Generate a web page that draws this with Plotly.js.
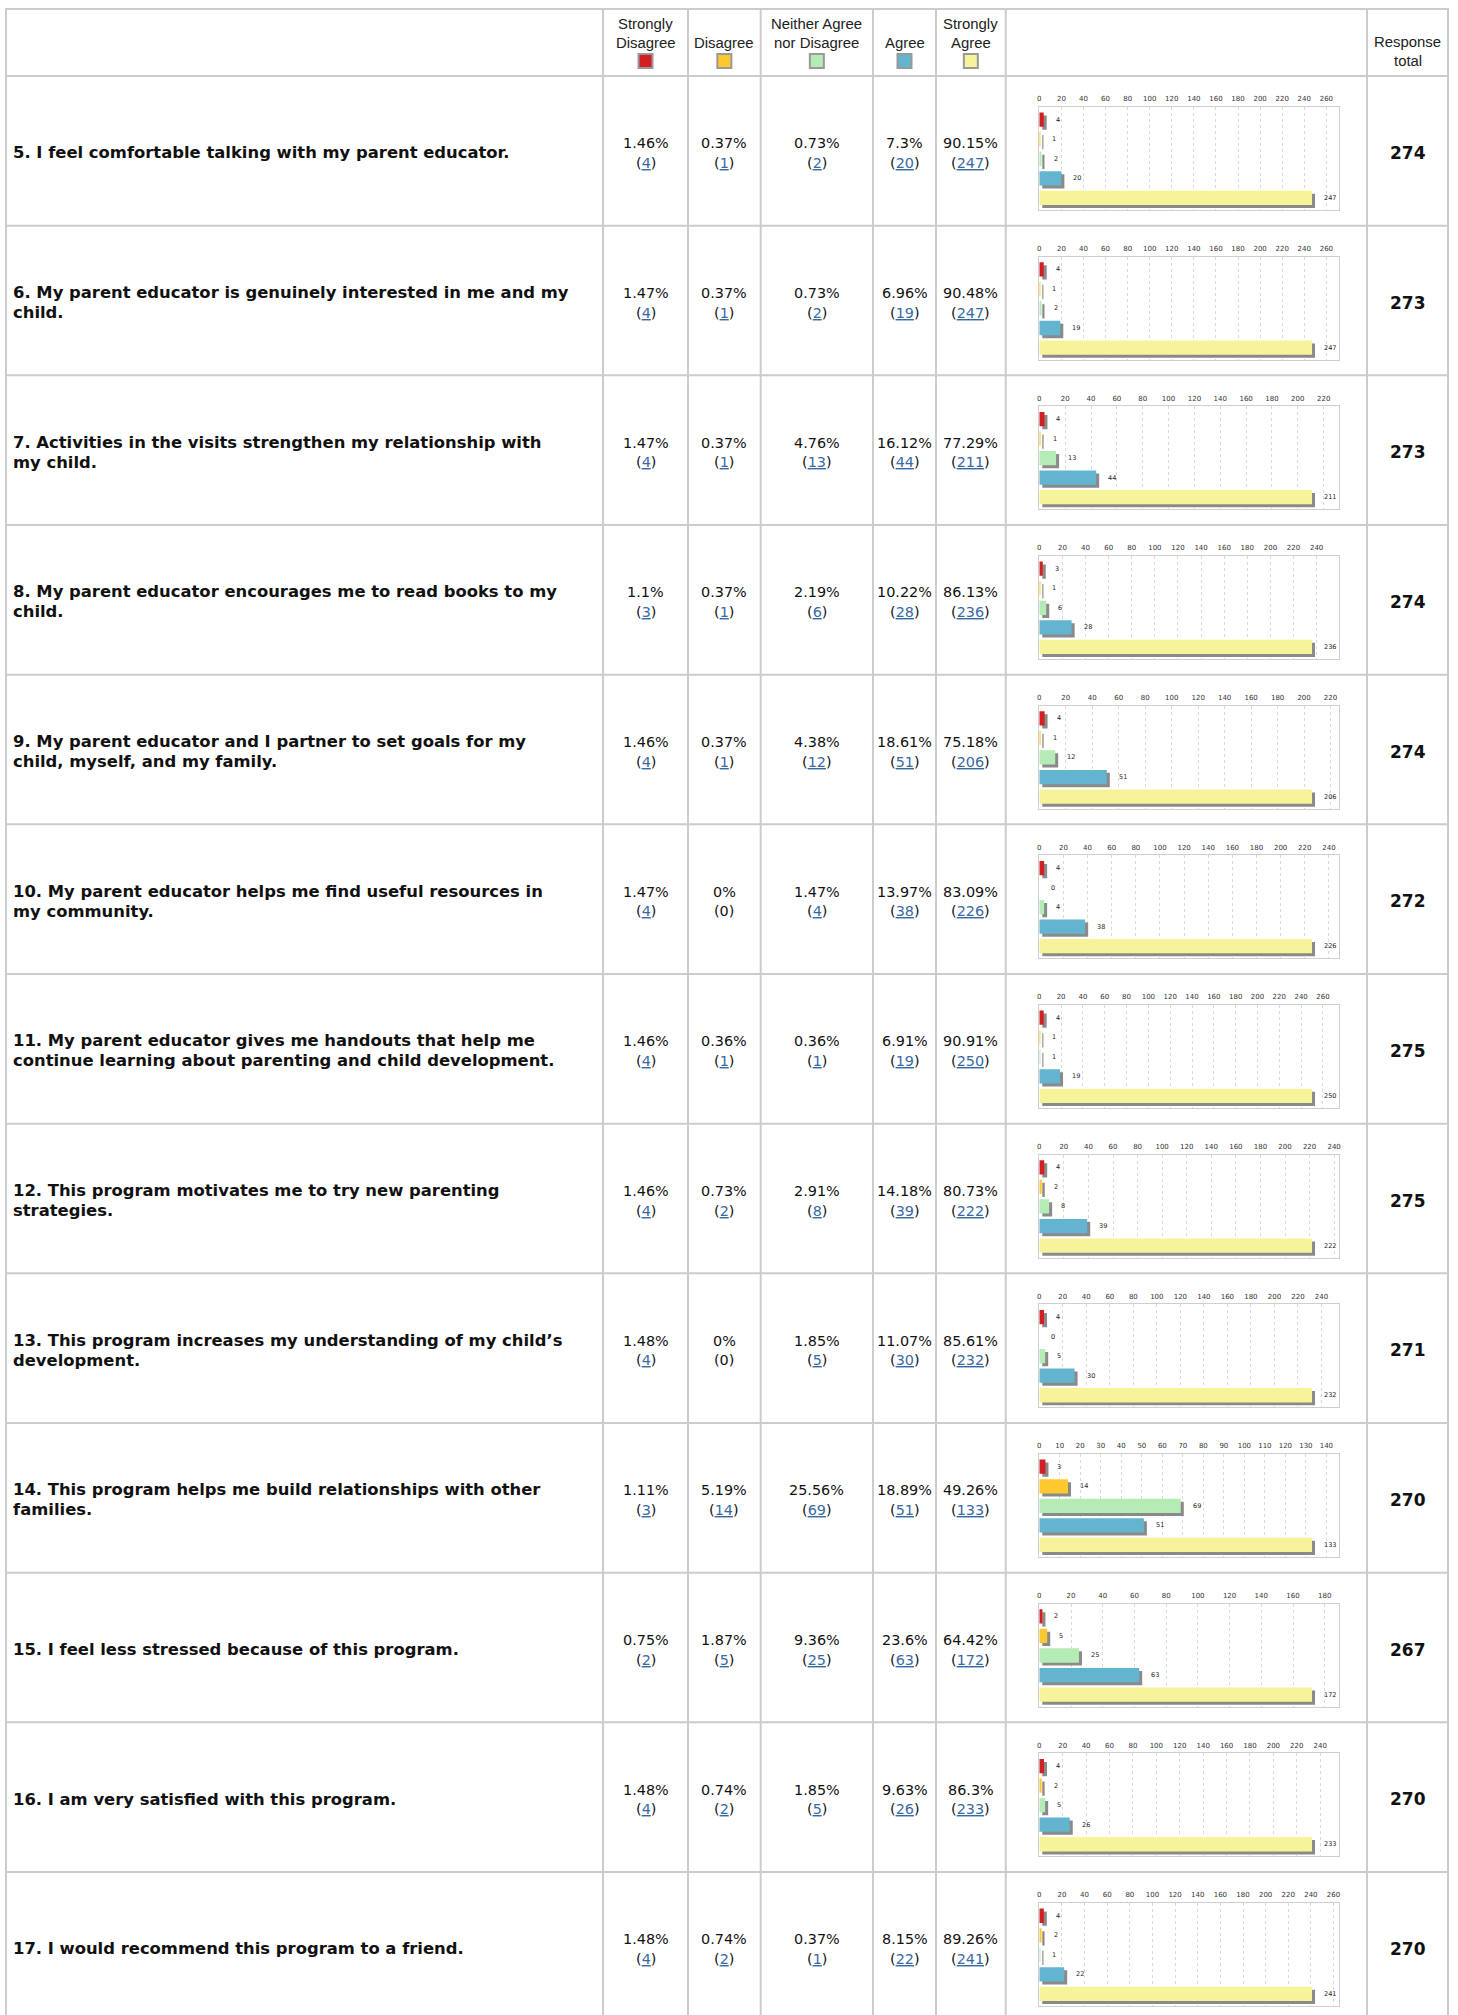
<!DOCTYPE html>
<html><head><meta charset="utf-8">
<script src="https://cdn.plot.ly/plotly-3.0.1.min.js"></script>
<style>html,body{margin:0;padding:0;background:#fff;overflow:hidden}</style>
</head><body>
<div id="chart" style="width:1458px;height:2015px"></div>
<script>
// ---------------- DATA ----------------
const categories = ["Strongly Disagree", "Disagree", "Neither Agree nor Disagree", "Agree", "Strongly Agree"];
const headerLines = [["Strongly", "Disagree"], ["Disagree"], ["Neither Agree", "nor Disagree"], ["Agree"], ["Strongly", "Agree"]];
const totalHeader = ["Response", "total"];
const questions = [
  ["5. I feel comfortable talking with my parent educator."],
  ["6. My parent educator is genuinely interested in me and my", "child."],
  ["7. Activities in the visits strengthen my relationship with", "my child."],
  ["8. My parent educator encourages me to read books to my", "child."],
  ["9. My parent educator and I partner to set goals for my", "child, myself, and my family."],
  ["10. My parent educator helps me find useful resources in", "my community."],
  ["11. My parent educator gives me handouts that help me", "continue learning about parenting and child development."],
  ["12. This program motivates me to try new parenting", "strategies."],
  ["13. This program increases my understanding of my child\u2019s", "development."],
  ["14. This program helps me build relationships with other", "families."],
  ["15. I feel less stressed because of this program."],
  ["16. I am very satisfied with this program."],
  ["17. I would recommend this program to a friend."]
];
const stronglyDisagreePct = [1.46, 1.47, 1.47, 1.1, 1.46, 1.47, 1.46, 1.46, 1.48, 1.11, 0.75, 1.48, 1.48];
const stronglyDisagreeN   = [4, 4, 4, 3, 4, 4, 4, 4, 4, 3, 2, 4, 4];
const disagreePct         = [0.37, 0.37, 0.37, 0.37, 0.37, 0, 0.36, 0.73, 0, 5.19, 1.87, 0.74, 0.74];
const disagreeN           = [1, 1, 1, 1, 1, 0, 1, 2, 0, 14, 5, 2, 2];
const neitherPct          = [0.73, 0.73, 4.76, 2.19, 4.38, 1.47, 0.36, 2.91, 1.85, 25.56, 9.36, 1.85, 0.37];
const neitherN            = [2, 2, 13, 6, 12, 4, 1, 8, 5, 69, 25, 5, 1];
const agreePct            = [7.3, 6.96, 16.12, 10.22, 18.61, 13.97, 6.91, 14.18, 11.07, 18.89, 23.6, 9.63, 8.15];
const agreeN              = [20, 19, 44, 28, 51, 38, 19, 39, 30, 51, 63, 26, 22];
const stronglyAgreePct    = [90.15, 90.48, 77.29, 86.13, 75.18, 83.09, 90.91, 80.73, 85.61, 49.26, 64.42, 86.3, 89.26];
const stronglyAgreeN      = [247, 247, 211, 236, 206, 226, 250, 222, 232, 133, 172, 233, 241];
const responseTotal       = [274, 273, 273, 274, 274, 272, 275, 275, 271, 270, 267, 270, 270];

// ---------------- STYLE / LAYOUT ----------------
const seriesColors = ['#d21f1f', '#ffc82e', '#b5ebb5', '#62b4cf', '#f7f39a'];
const W = 1458, H = 2015;
const px = x => x / W, py = y => 1 - y / H;
const colX = [6, 603, 688, 760.7, 873, 936, 1005.7, 1367, 1448];
const headerTop = 9, headerBottom = 76, rowH = 149.67;
const rowTop = i => headerBottom + i * rowH;
const gridColor = '#cccccc';
const linkColor = '#3a6aa3';
const textColor = '#111111';
const PLOT_L = 1039.3, PLOT_R = 1339.3, PLOT_W = PLOT_R - PLOT_L;
const PLOT_T_OFF = 31, PLOT_B_OFF = 134;
const BAR_W = 0.73, SHADOW_DY = 0.153, SHADOW_PX = 3;

const pctCols = [stronglyDisagreePct, disagreePct, neitherPct, agreePct, stronglyAgreePct];
const nCols = [stronglyDisagreeN, disagreeN, neitherN, agreeN, stronglyAgreeN];

const shapes = [], annotations = [], traces = [];
const layout = {
  width: W, height: H, margin: {l: 0, r: 0, t: 0, b: 0},
  paper_bgcolor: '#ffffff', plot_bgcolor: '#ffffff',
  showlegend: false, barmode: 'overlay',
  font: {family: 'DejaVu Sans, Verdana, sans-serif', color: textColor},
  shapes: shapes, annotations: annotations
};

function ann(x, y, text, font, extra) {
  annotations.push(Object.assign({xref: 'paper', yref: 'paper', x: px(x), y: py(y), text: text,
    showarrow: false, xanchor: 'center', yanchor: 'middle', font: font, borderpad: 0}, extra || {}));
}

// table grid
const hLines = [headerTop].concat(questions.map((q, i) => rowTop(i)));
hLines.forEach(y => shapes.push({type: 'line', xref: 'paper', yref: 'paper', layer: 'below',
  x0: px(colX[0] - 1), x1: px(colX[colX.length - 1] + 1), y0: py(y), y1: py(y), line: {color: gridColor, width: 2}}));
colX.forEach(x => shapes.push({type: 'line', xref: 'paper', yref: 'paper', layer: 'below',
  x0: px(x), x1: px(x), y0: py(headerTop - 1), y1: py(H + 10), line: {color: gridColor, width: 2}}));

// header
const headFont = {family: 'Liberation Sans, Arial, sans-serif', size: 14.9, color: '#222'};
categories.forEach((c, k) => {
  const cx = (colX[k + 1] + colX[k + 2]) / 2;
  const lines = headerLines[k];
  lines.forEach((t, j) => ann(cx, 43.3 - (lines.length - 1 - j) * 19, t, headFont));
  shapes.push({type: 'rect', xref: 'paper', yref: 'paper', x0: px(cx - 7), x1: px(cx + 7), y0: py(54), y1: py(68),
    fillcolor: seriesColors[k], line: {color: '#999999', width: 2}});
});
const totX = (colX[7] + colX[8]) / 2;
totalHeader.forEach((t, j) => ann(totX, 42.3 + j * 18.7, t, headFont));

// rows
const qFont = {family: 'DejaVu Sans, Verdana, sans-serif', size: 16.4, color: textColor, weight: 'bold'};
const pFont = {family: 'DejaVu Sans, Verdana, sans-serif', size: 14.4, color: textColor};
const tFont = {family: 'DejaVu Sans, Verdana, sans-serif', size: 17, color: textColor, weight: 'bold'};

questions.forEach((q, i) => {
  const top = rowTop(i), cy = top + rowH / 2 + 2;
  q.forEach((t, j) => ann(11.5, cy + (j - (q.length - 1) / 2) * 19.8, t, qFont, {xanchor: 'left'}));
  pctCols.forEach((arr, k) => {
    const cx = (colX[k + 1] + colX[k + 2]) / 2;
    ann(cx, cy - 9.5, String(arr[i]) + '%', pFont);
    const n = nCols[k][i];
    const inner = n > 0 ? '<span style="color:' + linkColor + '"><u>' + n + '</u></span>' : String(n);
    ann(cx, cy + 10, '(' + inner + ')', pFont);
  });
  ann(totX, cy, String(responseTotal[i]), tFont);

  // mini bar chart
  const n = i + 1, sfx = n === 1 ? '' : String(n);
  const xa = 'x' + sfx, ya = 'y' + sfx;
  const counts = nCols.map(a => a[i]);
  const xMax = Math.max.apply(null, counts) * 1.1;
  const unitPerPx = xMax / PLOT_W;
  const yPos = counts.map((v, k) => k);
  traces.push({type: 'bar', orientation: 'h', xaxis: xa, yaxis: ya, y: yPos, x: counts,
    base: SHADOW_PX * unitPerPx, width: BAR_W, offset: -BAR_W / 2 + SHADOW_DY,
    marker: {color: '#8a8a8a', line: {width: 0}}, hoverinfo: 'skip'});
  traces.push({type: 'bar', orientation: 'h', xaxis: xa, yaxis: ya, y: yPos, x: counts,
    base: 0, width: BAR_W, offset: -BAR_W / 2,
    marker: {color: seriesColors, line: {width: 0}}, hoverinfo: 'skip'});
  counts.forEach((v, k) => annotations.push({xref: xa, yref: ya, x: v, y: k, text: String(v),
    showarrow: false, xanchor: 'left', yanchor: 'middle', xshift: 11, borderpad: 0,
    font: {family: 'DejaVu Sans, sans-serif', size: 6.5, color: '#222'}}));

  layout['xaxis' + sfx] = {domain: [px(PLOT_L), px(PLOT_R)], anchor: ya, range: [0, xMax],
    side: 'top', tick0: 0, dtick: xMax > 160 ? 20 : 10, ticks: '', ticklabelstandoff: 2,
    tickfont: {family: 'DejaVu Sans, sans-serif', size: 7, color: '#333'},
    showgrid: true, gridcolor: '#d9d9d9', griddash: 'dot', gridwidth: 1, zeroline: false,
    showline: true, mirror: true, linecolor: '#cfcfcf', linewidth: 1, fixedrange: true};
  layout['yaxis' + sfx] = {domain: [py(top + PLOT_B_OFF), py(top + PLOT_T_OFF)], anchor: xa,
    range: [4.62, -0.65], showticklabels: false, showgrid: false, zeroline: false,
    showline: true, mirror: true, linecolor: '#cfcfcf', linewidth: 1, fixedrange: true};
});

Plotly.newPlot('chart', traces, layout, {staticPlot: true, displayModeBar: false});
</script>
</body></html>
